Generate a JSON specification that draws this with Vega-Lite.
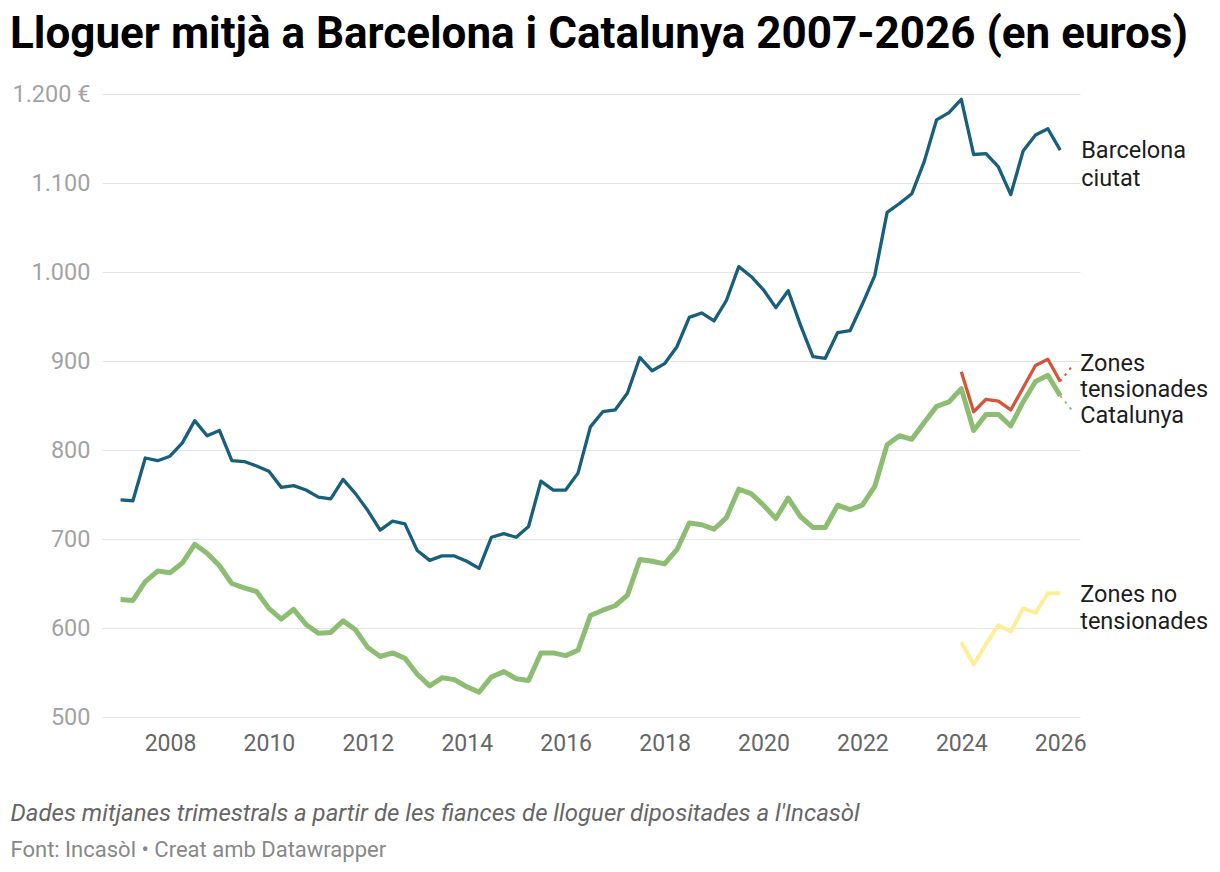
{
  "$schema": "https://vega.github.io/schema/vega-lite/v6.json",
  "width": 978,
  "height": 623,
  "autosize": {"type": "none"},
  "padding": {"left": 102, "top": 94, "right": 140, "bottom": 155},
  "background": "white",
  "title": {
    "text": "Lloguer mitjà a Barcelona i Catalunya 2007-2026 (en euros)",
    "anchor": "start",
    "frame": "group",
    "dx": -92,
    "offset": 25,
    "font": "Roboto",
    "fontSize": 44,
    "fontWeight": "bold",
    "color": "#000000"
  },
  "config": {
    "font": "Roboto",
    "view": {"stroke": null}
  },
  "datasets": {
    "barcelona": [
      {"year": 2007, "rent": 744}, {"year": 2007.25, "rent": 743}, {"year": 2007.5, "rent": 791}, {"year": 2007.75, "rent": 788},
      {"year": 2008, "rent": 793}, {"year": 2008.25, "rent": 808}, {"year": 2008.5, "rent": 833}, {"year": 2008.75, "rent": 816},
      {"year": 2009, "rent": 822}, {"year": 2009.25, "rent": 788}, {"year": 2009.5, "rent": 787}, {"year": 2009.75, "rent": 782},
      {"year": 2010, "rent": 776}, {"year": 2010.25, "rent": 758}, {"year": 2010.5, "rent": 760}, {"year": 2010.75, "rent": 755},
      {"year": 2011, "rent": 747}, {"year": 2011.25, "rent": 745}, {"year": 2011.5, "rent": 767}, {"year": 2011.75, "rent": 751},
      {"year": 2012, "rent": 732}, {"year": 2012.25, "rent": 710}, {"year": 2012.5, "rent": 720}, {"year": 2012.75, "rent": 717},
      {"year": 2013, "rent": 687}, {"year": 2013.25, "rent": 676}, {"year": 2013.5, "rent": 681}, {"year": 2013.75, "rent": 681},
      {"year": 2014, "rent": 675}, {"year": 2014.25, "rent": 667}, {"year": 2014.5, "rent": 702}, {"year": 2014.75, "rent": 706},
      {"year": 2015, "rent": 702}, {"year": 2015.25, "rent": 714}, {"year": 2015.5, "rent": 765}, {"year": 2015.75, "rent": 755},
      {"year": 2016, "rent": 755}, {"year": 2016.25, "rent": 774}, {"year": 2016.5, "rent": 826}, {"year": 2016.75, "rent": 843},
      {"year": 2017, "rent": 845}, {"year": 2017.25, "rent": 864}, {"year": 2017.5, "rent": 904}, {"year": 2017.75, "rent": 889},
      {"year": 2018, "rent": 897}, {"year": 2018.25, "rent": 916}, {"year": 2018.5, "rent": 949}, {"year": 2018.75, "rent": 954},
      {"year": 2019, "rent": 945}, {"year": 2019.25, "rent": 968}, {"year": 2019.5, "rent": 1006}, {"year": 2019.75, "rent": 995},
      {"year": 2020, "rent": 980}, {"year": 2020.25, "rent": 960}, {"year": 2020.5, "rent": 979}, {"year": 2020.75, "rent": 940},
      {"year": 2021, "rent": 905}, {"year": 2021.25, "rent": 903}, {"year": 2021.5, "rent": 932}, {"year": 2021.75, "rent": 934},
      {"year": 2022, "rent": 964}, {"year": 2022.25, "rent": 996}, {"year": 2022.5, "rent": 1067}, {"year": 2022.75, "rent": 1077},
      {"year": 2023, "rent": 1088}, {"year": 2023.25, "rent": 1124}, {"year": 2023.5, "rent": 1171}, {"year": 2023.75, "rent": 1179},
      {"year": 2024, "rent": 1194}, {"year": 2024.25, "rent": 1132}, {"year": 2024.5, "rent": 1133}, {"year": 2024.75, "rent": 1118},
      {"year": 2025, "rent": 1087}, {"year": 2025.25, "rent": 1136}, {"year": 2025.5, "rent": 1154}, {"year": 2025.75, "rent": 1161},
      {"year": 2026, "rent": 1137}
    ],
    "catalunya": [
      {"year": 2007, "rent": 632}, {"year": 2007.25, "rent": 631}, {"year": 2007.5, "rent": 652}, {"year": 2007.75, "rent": 664},
      {"year": 2008, "rent": 662}, {"year": 2008.25, "rent": 673}, {"year": 2008.5, "rent": 694}, {"year": 2008.75, "rent": 684},
      {"year": 2009, "rent": 670}, {"year": 2009.25, "rent": 650}, {"year": 2009.5, "rent": 645}, {"year": 2009.75, "rent": 641},
      {"year": 2010, "rent": 622}, {"year": 2010.25, "rent": 610}, {"year": 2010.5, "rent": 621}, {"year": 2010.75, "rent": 604},
      {"year": 2011, "rent": 594}, {"year": 2011.25, "rent": 595}, {"year": 2011.5, "rent": 608}, {"year": 2011.75, "rent": 598},
      {"year": 2012, "rent": 578}, {"year": 2012.25, "rent": 568}, {"year": 2012.5, "rent": 572}, {"year": 2012.75, "rent": 566},
      {"year": 2013, "rent": 548}, {"year": 2013.25, "rent": 535}, {"year": 2013.5, "rent": 544}, {"year": 2013.75, "rent": 542},
      {"year": 2014, "rent": 534}, {"year": 2014.25, "rent": 528}, {"year": 2014.5, "rent": 545}, {"year": 2014.75, "rent": 551},
      {"year": 2015, "rent": 543}, {"year": 2015.25, "rent": 541}, {"year": 2015.5, "rent": 572}, {"year": 2015.75, "rent": 572},
      {"year": 2016, "rent": 569}, {"year": 2016.25, "rent": 575}, {"year": 2016.5, "rent": 614}, {"year": 2016.75, "rent": 620},
      {"year": 2017, "rent": 625}, {"year": 2017.25, "rent": 637}, {"year": 2017.5, "rent": 677}, {"year": 2017.75, "rent": 675},
      {"year": 2018, "rent": 672}, {"year": 2018.25, "rent": 688}, {"year": 2018.5, "rent": 718}, {"year": 2018.75, "rent": 716},
      {"year": 2019, "rent": 711}, {"year": 2019.25, "rent": 724}, {"year": 2019.5, "rent": 756}, {"year": 2019.75, "rent": 751},
      {"year": 2020, "rent": 738}, {"year": 2020.25, "rent": 723}, {"year": 2020.5, "rent": 746}, {"year": 2020.75, "rent": 725},
      {"year": 2021, "rent": 713}, {"year": 2021.25, "rent": 713}, {"year": 2021.5, "rent": 738}, {"year": 2021.75, "rent": 733},
      {"year": 2022, "rent": 738}, {"year": 2022.25, "rent": 759}, {"year": 2022.5, "rent": 806}, {"year": 2022.75, "rent": 816},
      {"year": 2023, "rent": 812}, {"year": 2023.25, "rent": 831}, {"year": 2023.5, "rent": 849}, {"year": 2023.75, "rent": 854},
      {"year": 2024, "rent": 869}, {"year": 2024.25, "rent": 822}, {"year": 2024.5, "rent": 840}, {"year": 2024.75, "rent": 840},
      {"year": 2025, "rent": 827}, {"year": 2025.25, "rent": 854}, {"year": 2025.5, "rent": 877}, {"year": 2025.75, "rent": 884},
      {"year": 2026, "rent": 861}
    ],
    "tensionades": [
      {"year": 2024, "rent": 888}, {"year": 2024.25, "rent": 843}, {"year": 2024.5, "rent": 857}, {"year": 2024.75, "rent": 855},
      {"year": 2025, "rent": 845}, {"year": 2025.25, "rent": 870}, {"year": 2025.5, "rent": 895}, {"year": 2025.75, "rent": 902},
      {"year": 2026, "rent": 877}
    ],
    "noTensionades": [
      {"year": 2024, "rent": 584}, {"year": 2024.25, "rent": 559}, {"year": 2024.5, "rent": 582}, {"year": 2024.75, "rent": 603},
      {"year": 2025, "rent": 596}, {"year": 2025.25, "rent": 622}, {"year": 2025.5, "rent": 617}, {"year": 2025.75, "rent": 639},
      {"year": 2026, "rent": 639}
    ],
    "provisional": [
      {"series": "Catalunya", "year": 2026, "rent": 861},
      {"series": "Catalunya", "year": 2026.25, "rent": 844},
      {"series": "Zones tensionades", "year": 2026, "rent": 877},
      {"series": "Zones tensionades", "year": 2026.25, "rent": 895}
    ]
  },
  "encoding": {
    "x": {
      "field": "year",
      "type": "quantitative",
      "scale": {"domain": [2006.625, 2026.4], "nice": false, "zero": false},
      "axis": {
        "values": [2008, 2010, 2012, 2014, 2016, 2018, 2020, 2022, 2024, 2026],
        "format": "d",
        "labelFontSize": 23,
        "labelColor": "#666666",
        "labelPadding": 15,
        "labelFlush": false,
        "ticks": false,
        "domain": false,
        "grid": false,
        "title": "Dades mitjanes trimestrals a partir de les fiances de lloguer dipositades a l'Incasòl",
        "titleFont": "Roboto",
        "titleFontStyle": "italic",
        "titleFontWeight": "normal",
        "titleFontSize": 24,
        "titleColor": "#666666",
        "titleAlign": "left",
        "titleAnchor": "start",
        "titleBaseline": "alphabetic",
        "titleX": -92,
        "titleY": 103
      }
    },
    "y": {
      "field": "rent",
      "type": "quantitative",
      "scale": {"domain": [500, 1200], "nice": false, "zero": false},
      "axis": {
        "values": [500, 600, 700, 800, 900, 1000, 1100, 1200],
        "labelExpr": "datum.value == 1200 ? '1.200 €' : replace(datum.label, ',', '.')",
        "labelFontSize": 23.5,
        "labelColor": "#a3a3a3",
        "labelPadding": 12,
        "ticks": false,
        "domain": false,
        "grid": true,
        "gridColor": "#e3e3e3",
        "gridWidth": 1,
        "title": "Font: Incasòl • Creat amb Datawrapper",
        "titleFont": "Roboto",
        "titleFontWeight": "normal",
        "titleFontSize": 22,
        "titleColor": "#888888",
        "titleAngle": 0,
        "titleAlign": "left",
        "titleBaseline": "alphabetic",
        "titleX": -92,
        "titleY": 762
      }
    }
  },
  "layer": [
    {
      "data": {"name": "noTensionades"},
      "mark": {"type": "line", "color": "#fdee9a", "strokeWidth": 4, "strokeJoin": "round"}
    },
    {
      "data": {"name": "barcelona"},
      "mark": {"type": "line", "color": "#175f7a", "strokeWidth": 3.3, "strokeJoin": "round"}
    },
    {
      "data": {"name": "catalunya"},
      "mark": {"type": "line", "color": "#8cbd73", "strokeWidth": 5, "strokeJoin": "round"}
    },
    {
      "data": {"name": "tensionades"},
      "mark": {"type": "line", "color": "#d3563a", "strokeWidth": 3.3, "strokeJoin": "round"}
    },
    {
      "data": {"name": "provisional"},
      "mark": {"type": "line", "strokeWidth": 2, "strokeDash": [2.5, 5]},
      "encoding": {
        "color": {
          "field": "series",
          "type": "nominal",
          "scale": {"domain": ["Catalunya", "Zones tensionades"], "range": ["#8cbd73", "#d3563a"]},
          "legend": null
        }
      }
    },
    {
      "data": {"name": "barcelona"},
      "transform": [{"filter": "datum.year == 2026"}],
      "mark": {"type": "text", "text": "Barcelona\nciutat", "lineBreak": "\n", "lineHeight": 28, "align": "left", "baseline": "middle", "dx": 21, "dy": 1, "fontSize": 23.5, "color": "#1d1d1d"}
    },
    {
      "data": {"name": "tensionades"},
      "transform": [{"filter": "datum.year == 2026"}],
      "mark": {"type": "text", "text": "Zones\ntensionades", "lineBreak": "\n", "lineHeight": 26, "align": "left", "baseline": "middle", "dx": 20, "dy": -17, "fontSize": 23.5, "color": "#1d1d1d"}
    },
    {
      "data": {"name": "catalunya"},
      "transform": [{"filter": "datum.year == 2026"}],
      "mark": {"type": "text", "text": "Catalunya", "align": "left", "baseline": "middle", "dx": 20, "dy": 20, "fontSize": 23.5, "color": "#1d1d1d"}
    },
    {
      "data": {"name": "noTensionades"},
      "transform": [{"filter": "datum.year == 2026"}],
      "mark": {"type": "text", "text": "Zones no\ntensionades", "lineBreak": "\n", "lineHeight": 27, "align": "left", "baseline": "middle", "dx": 20, "dy": 2, "fontSize": 23.5, "color": "#1d1d1d"}
    }
  ]
}
